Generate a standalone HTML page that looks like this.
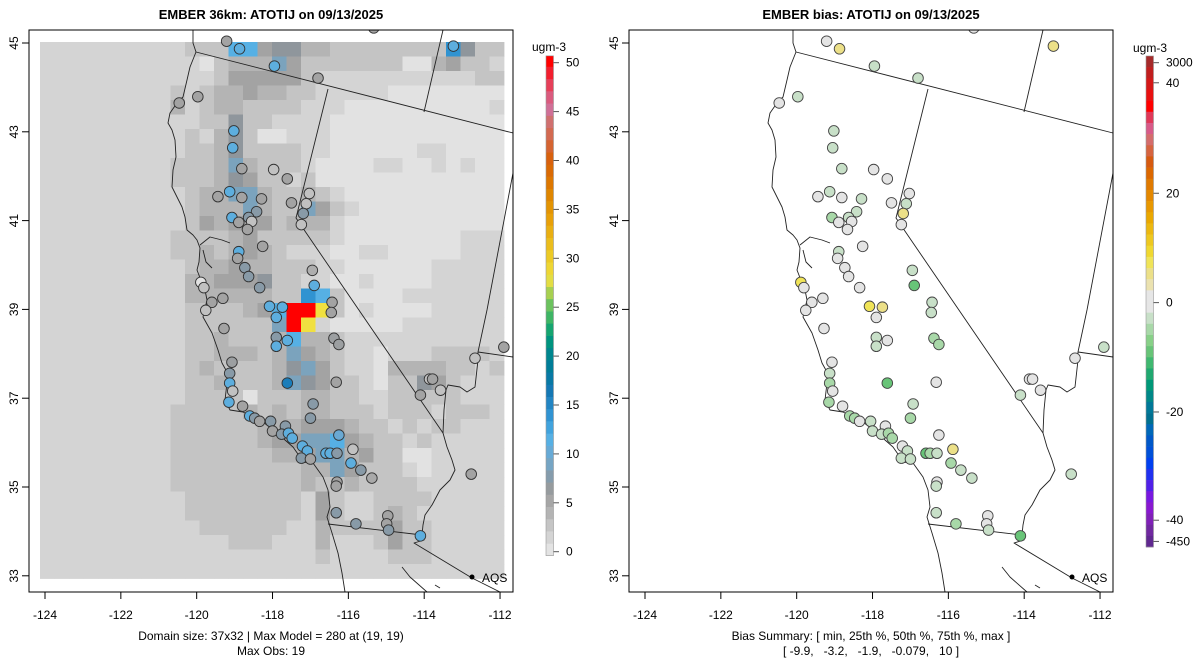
<!DOCTYPE html>
<html>
<head>
<meta charset="utf-8">
<style>
  html,body{margin:0;padding:0;background:#fff;}
  svg{display:block;font-family:"Liberation Sans",Arial,sans-serif;}
  text{fill:#000;}
</style>
</head>
<body>
<svg id="chart" width="1200" height="672" viewBox="0 0 1200 672" xmlns="http://www.w3.org/2000/svg">
  <defs>
    <clipPath id="clipL"><rect x="29" y="30" width="484" height="562"/></clipPath>
    <clipPath id="clipR"><rect x="629" y="30" width="484" height="562"/></clipPath>
  </defs>
  <rect x="0" y="0" width="1200" height="672" fill="#fff"/>

  <text x="271" y="19" text-anchor="middle" font-size="13" font-weight="bold">EMBER 36km: ATOTIJ on 09/13/2025</text>
  <text x="871" y="19" text-anchor="middle" font-size="13" font-weight="bold">EMBER bias: ATOTIJ on 09/13/2025</text>

  <g id="gridLayer" clip-path="url(#clipL)"></g>
  <g id="geoL"></g>
  <g id="geoR" transform="translate(600,0)"></g>
  <g id="stationsL" clip-path="url(#clipL)"></g>
  <g id="stationsR" clip-path="url(#clipR)"></g>

  <rect x="29" y="30" width="484" height="562" fill="none" stroke="#000" stroke-width="1"/>
  <rect x="629" y="30" width="484" height="562" fill="none" stroke="#000" stroke-width="1"/>

  <g id="axes"></g>
  <g id="cbarL"></g>
  <g id="cbarR"></g>

  <g>
    <circle cx="472" cy="577" r="2.5" fill="#000"/>
    <text x="482" y="582" font-size="12">AQS</text>
  </g>
  <g>
    <circle cx="1072" cy="577" r="2.5" fill="#000"/>
    <text x="1082" y="582" font-size="12">AQS</text>
  </g>

  <text x="271" y="640" text-anchor="middle" font-size="12">Domain size: 37x32 | Max Model = 280 at (19, 19)</text>
  <text x="271" y="655" text-anchor="middle" font-size="12">Max Obs: 19</text>
  <text x="871" y="640" text-anchor="middle" font-size="12">Bias Summary: [ min, 25th %, 50th %, 75th %, max ]</text>
  <text x="871" y="655" text-anchor="middle" font-size="12" xml:space="preserve">[ -9.9,   -3.2,   -1.9,   -0.079,   10 ]</text>
</svg>

<script>
// ---------- DATA ----------
const gridRows = [
"11111111112227745533222222228522",
"11111111111023336422222220034221",
"11111111111124444421111111111122",
"11111111121233433221111100000000",
"11111111131233222211100000000001",
"11111111111225221111000000000000",
"11111111112135200111000000000000",
"11111111112235222211000000110000",
"11111111122236322210000110010100",
"11111111122235422120000000000000",
"11111111112336632232100000000000",
"11111111112333632264210000000000",
"11111111112434442333100000000000",
"11111111122223422222100000000111",
"11111111122323432111001100000111",
"11111111112334332221100000011111",
"11111111113344452211001000011111",
"11111111113333332287200001111111",
"11111111112222347RRY201000011111",
"11111111112222226RY1000001111111",
"11111111112232223733211111111111",
"11111111112233323643211011122221",
"11111111112322223564211033332212",
"11111111112232223654221022542111",
"11111111112222022233221122222111",
"11111111122222323233222122212221",
"11111111122222233344432212122111",
"11111111122222234466743221211111",
"11111111122222223346634220011111",
"11111111122222222233642221011111",
"11111111122222222232232222111111",
"11111111112222222214211222211111",
"11111111112222222214211232111111",
"11111111111222222113222242211111",
"11111111111112221113111242211111",
"11111111111111111112111122211111",
"11111111111111111111111111111111"
];
const levelValues = {"0":0.3,"1":1.5,"2":2.8,"3":4,"4":5.5,"5":7,"6":8.5,"7":11.5,"8":14,"Y":28,"R":50};

const obsStopVals = [0,1.5,2.8,4,5.5,7,8.5,10,11.5,13,14.5,16.5,18.5,20.5,22,23.5,25,26.5,28,30,32,34,36,38,40,42,44,45.5,47,48.5,50];
const obsStopCols = ["#e6e6e6","#d4d4d4","#c4c4c4","#b4b4b4","#a3a3a3","#8f969c","#7ba3bd","#6aa9d3","#56b0e4","#3ca0dc","#2a8ccc","#1478b4","#007a9c","#00888c","#009a78","#2eb068","#60c060","#a8d050","#f0e040","#eccc28","#eab818","#e8a008","#e08c00","#dc7400","#d86008","#d46640","#d07070","#d070a0","#e0506c","#ec2c44","#ff0000"];
const obsTicks = [0,5,10,15,20,25,30,35,40,45,50];

const biasBinColors = ["#a52a2a","#c01e1e","#d41818","#e81010","#ff0000","#e03858","#d85a88","#d46c6c","#d66440","#d65a10","#dc6800","#e07a00","#e48800","#e89800","#eaa800","#ecb810","#eec820","#f0d830","#f0e458","#ece088","#ebe2b0","#e6e6e6","#e6e6e6","#c8e0c8","#a8d8a8","#88d088","#68c478","#40b870","#20a870","#009878","#008888","#007898","#007090","#0068b8","#0058c8","#0050d8","#0040f0","#2030f0","#5020e8","#7818e0","#8818d0","#8020b8","#7028a0","#602890"];
const biasTickLabels = ["3000","40","20","0","-20","-40","-450"];
const biasTickBins = [0.6,2.4,12.3,22.1,31.9,41.6,43.5];

const lonTicks = [-124,-122,-120,-118,-116,-114,-112];
const latTicks = [33,35,37,39,41,43,45];

const stationLon = [-119.21,-118.87,-117.95,-116.80,-119.97,-120.46,-119.02,-119.05,-118.81,-117.97,-117.61,-119.44,-119.13,-118.81,-118.29,-117.50,-117.03,-117.11,-117.19,-117.24,-118.42,-119.07,-118.63,-118.55,-118.89,-118.66,-118.26,-118.89,-118.92,-118.73,-118.63,-118.34,-119.89,-119.81,-119.31,-119.60,-116.95,-116.90,-116.43,-119.76,-119.28,-118.08,-117.90,-117.74,-116.45,-117.90,-117.90,-117.61,-116.38,-116.25,-119.07,-119.13,-119.13,-119.05,-117.61,-116.32,-119.15,-118.79,-116.93,-117.00,-118.60,-118.47,-118.34,-118.05,-117.66,-118.00,-117.76,-117.58,-117.48,-116.25,-117.21,-117.08,-117.24,-117.00,-116.59,-116.48,-116.30,-115.88,-115.93,-115.67,-115.38,-116.30,-116.32,-116.32,-115.80,-114.96,-114.99,-114.94,-114.10,-113.86,-113.78,-114.10,-113.57,-112.66,-111.90,-112.76,-113.23,-115.33];
const stationLat = [45.04,44.87,44.48,44.21,43.79,43.65,43.02,42.64,42.17,42.15,41.94,41.54,41.65,41.52,41.49,41.40,41.61,41.38,41.16,40.91,41.20,41.07,41.07,40.98,40.96,40.80,40.42,40.30,40.15,39.94,39.74,39.49,39.61,39.49,39.25,39.16,39.88,39.54,39.16,38.98,38.57,39.07,38.82,39.05,38.93,38.37,38.17,38.30,38.35,38.21,37.81,37.56,37.34,37.16,37.34,37.36,36.91,36.82,36.87,36.55,36.60,36.55,36.48,36.48,36.37,36.26,36.19,36.21,36.10,36.17,35.92,35.81,35.65,35.63,35.76,35.76,35.76,35.85,35.54,35.38,35.20,35.11,35.02,34.42,34.17,34.35,34.17,34.03,33.90,37.43,37.43,37.07,37.18,37.90,38.15,35.29,44.93,45.34];
const stationObs = [5.5,11,11,5.5,5.5,5.5,11,11,5.5,3,5.5,5.5,11,5.5,5.5,5.5,3,3,7.5,3,7.5,11,7.5,3,5.5,5.5,5.5,11,5.5,7.5,7.5,7.5,0.3,3,5.5,5.5,4.5,11,5.5,3,5.5,11,11,11,5.5,7.5,11,11,6,6,6,7.5,11,3,16,5.5,11,5.5,7.5,7.5,11,7.5,5.5,7.5,7.5,5.5,7.5,11,11,10,11,11,7.5,5.5,11,11,7.5,3,11,7.5,5,5.5,5.5,7.5,7.5,5.5,5.5,7.5,11,3,5.5,5.5,3,3,5.5,5.5,11,5.5];
const stationBias = [0,3,-1.5,-1.5,-1.5,0,-1.5,-1.5,-1.5,0,0,0,-1.5,0,-1.5,0,0,-1.5,3,0,-1.5,-3.5,-1.5,0,1,0,0,-1.5,0,0,0,-1,6,0,0,0,-1.5,-8,-1.5,0,0,6,0,3,-1.5,-1.5,-1.5,0,-3.5,-3.5,0,-1.5,-3.5,0,-8,0,-3.5,0,-1.5,-3.5,-3.5,-3.5,0,-1.5,0,-1.5,-1.5,-3.5,-3.5,0,0,-1.5,-1.5,-1.5,-8,-3.5,-1.5,3,-3.5,-1.5,-1.5,0,-1.5,-1.5,-3.5,0,0,-1.5,-8,0,0,-1.5,0,0,-1.5,-1.5,3,0];

// ---------- SCALES ----------
const NS = "http://www.w3.org/2000/svg";
function xL(lon){ return 45 + (lon + 124) * 37.92; }
function yL(lat){ return 43 + (45 - lat) * 44.4; }
function gridX(c){ return 40 + c * 14.5; }
function gridY(r){ return 42 + r * 14.5; }
function cbY(v){ return 551.7 - v * 9.78; }
function biasBinY(i){ return 56 + i * (491 / biasBinColors.length); }

function hex2rgb(h){ return [parseInt(h.substr(1,2),16),parseInt(h.substr(3,2),16),parseInt(h.substr(5,2),16)]; }
function obsColor(v){
  if (v <= obsStopVals[0]) return obsStopCols[0];
  const n = obsStopVals.length;
  if (v >= obsStopVals[n-1]) return obsStopCols[n-1];
  for (let i = 0; i < n-1; i++) {
    if (v >= obsStopVals[i] && v <= obsStopVals[i+1]) {
      const t = (v - obsStopVals[i]) / (obsStopVals[i+1] - obsStopVals[i]);
      const a = hex2rgb(obsStopCols[i]), b = hex2rgb(obsStopCols[i+1]);
      return "rgb(" + a.map((x,k)=>Math.round(x + (b[k]-x)*t)).join(",") + ")";
    }
  }
  return obsStopCols[n-1];
}
function biasColor(v){
  if (v >= 5) return "#f0e458";
  if (v >= 2) return "#ece088";
  if (v > -1.2) return "#e4e4e4";
  if (v > -2.5) return "#c8e0c8";
  if (v > -5) return "#a8d8a8";
  return "#68c478";
}
function mk(tag, attrs, parent){
  const e = document.createElementNS(NS, tag);
  for (const k in attrs) e.setAttribute(k, attrs[k]);
  parent.appendChild(e);
  return e;
}

// ---------- GRID ----------
const gridLayer = document.getElementById("gridLayer");
gridRows.forEach((row, r) => {
  for (let c = 0; c < row.length; c++) {
    const v = levelValues[row[c]];
    const cell = mk("rect", {x: gridX(c), y: gridY(r), width: 14.9, height: 14.9, fill: obsColor(v)}, gridLayer);
    
    
  }
});

// ---------- GEOGRAPHY ----------
const geoLines = [
  "193,30 193,43 196,52 192,62 190,67 187,80 183,97 177,103 170,113 168,123 172,130 175,140 176,157 173,170 172,187 177,197 182,207 185,217 187,230 193,235 197,240 200,248 199,262 197,270 202,283 205,290 207,300 203,317 212,333 218,350 222,363 227,372 227,383 225,400 230,410 243,412 263,422 277,433 293,447 300,457 302,462 313,463 323,477 328,490 330,507 327,517 332,533 338,553 342,573 345,592",
  "200,245 210,237 222,240 230,243",
  "203,250 206,262 212,268",
  "196,52 513,133",
  "443,30 424,112",
  "328,89 296,218 443,433",
  "513,173 487,310 478,352 513,357",
  "478,352 478,360 475,387 467,392 460,387 448,385 446,390 444,410 443,433 447,447 452,460 455,470 450,480 440,490 432,505 425,515 423,525 422,535 424,540 414,543 472,578 500,592",
  "328,524 422,535",
  "402,567 410,577 427,592",
  "435,585 440,588"
];
["geoL","geoR"].forEach(id => {
  const g = document.getElementById(id);
  const gl = mk("g", {"clip-path": id === "geoL" ? "url(#clipL)" : ""}, g);
  geoLines.forEach(pts => {
    const p = mk("polyline", {points: pts, fill: "none", stroke: "#222", "stroke-width": 0.9, "stroke-linejoin": "round"}, gl);
    
    
  });
});

// ---------- STATIONS ----------
const sL = document.getElementById("stationsL");
const sR = document.getElementById("stationsR");
for (let i = 0; i < stationLon.length; i++) {
  const cx = xL(stationLon[i]), cy = yL(stationLat[i]);
  const a = mk("circle", {cx: cx, cy: cy, r: 5.3, fill: obsColor(stationObs[i]), stroke: "#333", "stroke-width": 0.9}, sL);
  
  
  const b = mk("circle", {cx: cx + 600, cy: cy, r: 5.3, fill: biasColor(stationBias[i]), stroke: "#444", "stroke-width": 0.9}, sR);
  
  
}

// ---------- AXES ----------
const axes = document.getElementById("axes");
[0, 600].forEach(off => {
  lonTicks.forEach(lon => {
    const x = xL(lon) + off;
    mk("line", {x1: x, y1: 592, x2: x, y2: 599, stroke: "#000", "stroke-width": 1}, axes);
    const t = mk("text", {x: x, y: 619, "text-anchor": "middle", "font-size": 12}, axes);
    t.textContent = String(lon);
    
    
  });
  latTicks.forEach(lat => {
    const y = yL(lat);
    mk("line", {x1: 22 + off, y1: y, x2: 29 + off, y2: y, stroke: "#000", "stroke-width": 1}, axes);
    const t = mk("text", {x: 18 + off, y: y, "text-anchor": "middle", "font-size": 12, transform: "rotate(-90 " + (18 + off) + " " + y + ")"}, axes);
    t.textContent = String(lat);
    
    
  });
});

// ---------- LEFT COLORBAR ----------
const cbL = document.getElementById("cbarL");
const step = 1.25;
for (let v = -0.4; v < 50.7; v += step) {
  const y1 = cbY(Math.min(v + step, 50.7)), y0 = cbY(v);
  const seg = mk("rect", {x: 546, y: y1, width: 7.5, height: y0 - y1 + 0.3, fill: obsColor(v + step / 2)}, cbL);
  
  
}
mk("rect", {x: 546, y: cbY(50.7), width: 7.5, height: cbY(-0.4) - cbY(50.7), fill: "none", stroke: "#999", "stroke-width": 0.6}, cbL);
obsTicks.forEach(v => {
  mk("line", {x1: 553.5, y1: cbY(v), x2: 559, y2: cbY(v), stroke: "#555", "stroke-width": 1}, cbL);
  const t = mk("text", {x: 566, y: cbY(v) + 4, "font-size": 12}, cbL);
  t.textContent = String(v);
  
  
});
const uL = mk("text", {x: 549, y: 51, "text-anchor": "middle", "font-size": 12}, cbL);
uL.textContent = "ugm-3";



// ---------- RIGHT COLORBAR ----------
const cbR = document.getElementById("cbarR");
biasBinColors.forEach((col, i) => {
  const seg = mk("rect", {x: 1146, y: biasBinY(i), width: 7.5, height: biasBinY(i+1) - biasBinY(i) + 0.3, fill: col}, cbR);
  
  
});
mk("rect", {x: 1146, y: biasBinY(0), width: 7.5, height: biasBinY(biasBinColors.length) - biasBinY(0), fill: "none", stroke: "#999", "stroke-width": 0.6}, cbR);
biasTickLabels.forEach((lab, i) => {
  const y = biasBinY(biasTickBins[i]);
  mk("line", {x1: 1153.5, y1: y, x2: 1159, y2: y, stroke: "#555", "stroke-width": 1}, cbR);
  const t = mk("text", {x: 1166, y: y + 4, "font-size": 12}, cbR);
  t.textContent = lab;
  
  
});
const uR = mk("text", {x: 1150, y: 52, "text-anchor": "middle", "font-size": 12}, cbR);
uR.textContent = "ugm-3";


</script>
</body>
</html>
